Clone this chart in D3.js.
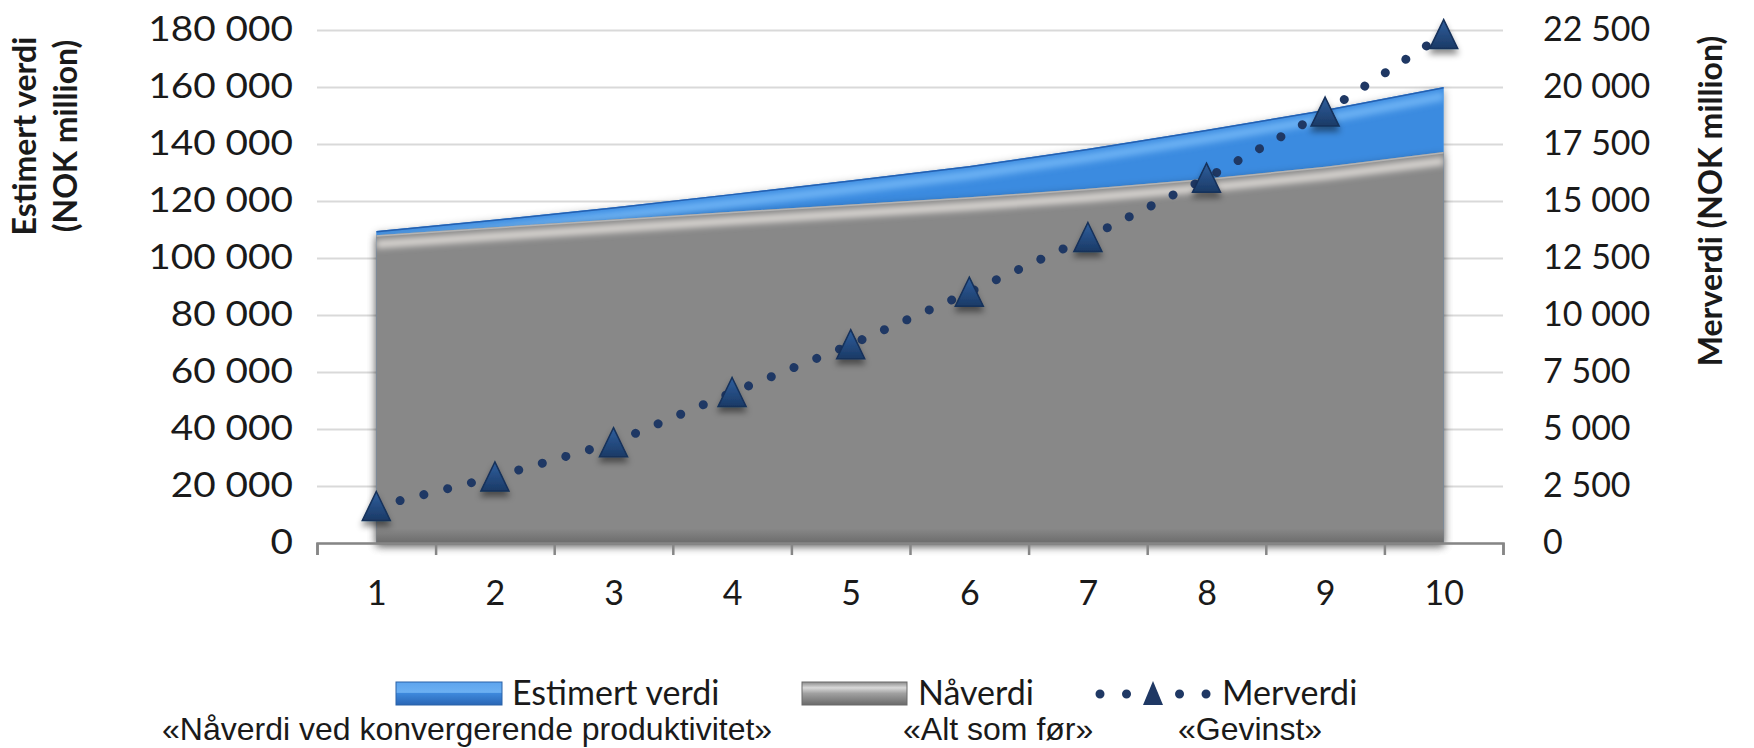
<!DOCTYPE html>
<html>
<head>
<meta charset="utf-8">
<script src="https://cdn.jsdelivr.net/npm/d3@7"></script>
<style>
  body { margin: 0; background: #fff; }
  text { font-family: Lato, "Open Sans", sans-serif; fill: #1a1a1a; }
  .quote { font-family: "Liberation Sans", Arial, sans-serif; }
</style>
</head>
<body>
<svg id="chart" width="1754" height="748"></svg>
<script>
// data
var years = [1, 2, 3, 4, 5, 6, 7, 8, 9, 10];
var estimert = [109500, 113500, 117800, 122500, 127300, 132300, 138300, 145000, 152000, 160000];
var naverdi = [108000, 110800, 113500, 116200, 118800, 121300, 124300, 127800, 132000, 137200];
var merverdi = [1600, 2900, 4400, 6600, 8700, 11000, 13400, 16000, 18900, 22300];
var leftTicks = [0, 20000, 40000, 60000, 80000, 100000, 120000, 140000, 160000, 180000];
var rightTicks = [0, 2500, 5000, 7500, 10000, 12500, 15000, 17500, 20000, 22500];
var legendNames = ["Estimert verdi", "Nåverdi", "Merverdi"];
var quotes = ["«Nåverdi ved konvergerende produktivitet»", "«Alt som før»", "«Gevinst»"];

var svg = d3.select("#chart");
var pl = 317, pr = 1503, pt = 30, pb = 543;

var x = d3.scaleLinear().domain([0.5, 10.5]).range([pl, pr]);
var y = d3.scaleLinear().domain([0, 180000]).range([pb, pt]);
var yR = d3.scaleLinear().domain([0, 22500]).range([pb, pt]);

var fmt = d3.formatLocale({decimal: ",", thousands: " ", grouping: [3], currency: ["", ""]}).format(",");

var defs = svg.append("defs");
var sh = defs.append("filter").attr("id", "shadow").attr("x", "-10%").attr("y", "-10%").attr("width", "120%").attr("height", "130%");
sh.append("feDropShadow").attr("dx", 0).attr("dy", 3).attr("stdDeviation", 4)
  .attr("flood-color", "#000").attr("flood-opacity", 0.4);
var msh = defs.append("filter").attr("id", "mshadow").attr("x", "-50%").attr("y", "-50%").attr("width", "200%").attr("height", "220%");
msh.append("feDropShadow").attr("dx", 0).attr("dy", 5).attr("stdDeviation", 3)
  .attr("flood-color", "#000").attr("flood-opacity", 0.45);
defs.append("filter").attr("id", "blur3").attr("x", "-10%").attr("y", "-50%").attr("width", "120%").attr("height", "200%")
  .append("feGaussianBlur").attr("stdDeviation", 3);

function grad(id, stops) {
  var g = defs.append("linearGradient").attr("id", id).attr("x1", 0).attr("y1", 0).attr("x2", 0).attr("y2", 1);
  stops.forEach(function(s) { g.append("stop").attr("offset", s[0]).attr("stop-color", s[1]); });
}
grad("gBlueLeg", [[0, "#5da4ee"], [0.45, "#6cb0f2"], [0.5, "#3d88dc"], [1, "#2a66b5"]]);
grad("gGrayLeg", [[0, "#8a8a8a"], [0.25, "#d9d9d9"], [0.5, "#a0a0a0"], [1, "#6a6a6a"]]);
grad("gTri", [[0, "#2f5f9e"], [1, "#1b3a66"]]);
grad("gBottom", [[0, "#878787"], [1, "#6c6c6c"]]);

// left tick labels in the picture are a bit wider than the font
function widen(sel, k) {
  sel.each(function() {
    var t = d3.select(this);
    t.attr("x", +t.attr("x") / k).attr("transform", "scale(" + k + ",1)");
  });
}

// gridlines
svg.append("g")
  .attr("transform", "translate(" + pl + ",0)")
  .call(d3.axisLeft(y).tickValues(leftTicks).tickSize(-(pr - pl)).tickFormat(""))
  .call(function(g) { g.select(".domain").remove(); })
  .call(function(g) { g.selectAll("line").attr("stroke", "#d9d9d9").attr("stroke-width", 2); });

var area = function(vals) {
  return d3.area().x(function(d, i) { return x(years[i]); }).y0(pb).y1(function(d) { return y(d); })(vals);
};
var line = function(vals, sc) {
  return d3.line().x(function(d, i) { return x(years[i]); }).y(function(d) { return sc(d); })(vals);
};

defs.append("clipPath").attr("id", "clipBlue").append("path").attr("d", area(estimert));
defs.append("clipPath").attr("id", "clipGray").append("path").attr("d", area(naverdi));

// Estimert verdi area
svg.append("path").attr("d", area(estimert)).attr("fill", "#3a8be0").attr("filter", "url(#shadow)");
var bl = svg.append("g").attr("clip-path", "url(#clipBlue)");
bl.append("path").attr("d", line(estimert, y)).attr("transform", "translate(0,9)")
  .attr("fill", "none").attr("stroke", "#6db2f4").attr("stroke-width", 9).attr("filter", "url(#blur3)");
bl.append("path").attr("d", line(estimert, y))
  .attr("fill", "none").attr("stroke", "#2560b0").attr("stroke-width", 3);
bl.append("line").attr("x1", x(10)).attr("x2", x(10)).attr("y1", pt).attr("y2", pb)
  .attr("stroke", "#1f5096").attr("stroke-width", 6).attr("filter", "url(#blur3)");

// Nåverdi area
svg.append("path").attr("d", area(naverdi)).attr("fill", "#888888").attr("filter", "url(#shadow)");
var gr = svg.append("g").attr("clip-path", "url(#clipGray)");
gr.append("path").attr("d", line(naverdi, y)).attr("transform", "translate(0,9)")
  .attr("fill", "none").attr("stroke", "#dcd8d4").attr("stroke-width", 8).attr("filter", "url(#blur3)");
gr.append("path").attr("d", line(naverdi, y))
  .attr("fill", "none").attr("stroke", "#b4b4b4").attr("stroke-width", 3);
gr.append("rect").attr("x", pl).attr("width", pr - pl).attr("y", pb - 14).attr("height", 14)
  .attr("fill", "url(#gBottom)");
gr.append("line").attr("x1", x(10)).attr("x2", x(10)).attr("y1", pt).attr("y2", pb)
  .attr("stroke", "#4a4a4a").attr("stroke-width", 7).attr("filter", "url(#blur3)");
gr.append("line").attr("x1", x(1)).attr("x2", x(1)).attr("y1", pt).attr("y2", pb)
  .attr("stroke", "#9a9a9a").attr("stroke-width", 4).attr("filter", "url(#blur3)");

// x axis
svg.append("g")
  .attr("transform", "translate(0," + pb + ")")
  .call(d3.axisBottom(x).tickValues(d3.range(0.5, 11, 1)).tickSize(12).tickSizeOuter(12).tickFormat(""))
  .call(function(g) { g.selectAll("line, path").attr("stroke", "#868686").attr("stroke-width", 2.5); });
svg.append("g")
  .attr("transform", "translate(0," + pb + ")")
  .call(d3.axisBottom(x).tickValues(years).tickSize(0).tickPadding(38))
  .call(function(g) { g.select(".domain").remove(); })
  .selectAll("text").style("font-size", "34px").attr("fill", "#1a1a1a").style("font-family", "Lato");

// y axes labels
svg.append("g")
  .attr("transform", "translate(" + pl + ",0)")
  .call(d3.axisLeft(y).tickValues(leftTicks).tickSize(0).tickPadding(24).tickFormat(fmt))
  .call(function(g) { g.select(".domain").remove(); })
  .selectAll("text").style("font-size", "34px").attr("fill", "#1a1a1a").style("font-family", "Lato")
  .call(widen, 1.14);
svg.append("g")
  .attr("transform", "translate(" + pr + ",0)")
  .call(d3.axisRight(yR).tickValues(rightTicks).tickSize(0).tickPadding(40).tickFormat(fmt))
  .call(function(g) { g.select(".domain").remove(); })
  .selectAll("text").style("font-size", "34px").attr("fill", "#1a1a1a").style("font-family", "Lato");

// axis titles
var lt = svg.append("text").attr("transform", "translate(36,136) rotate(-90)")
  .attr("text-anchor", "middle").style("font-size", "32px").style("font-weight", "bold");
lt.append("tspan").attr("x", 0).attr("y", 0).text("Estimert verdi");
lt.append("tspan").attr("x", 0).attr("y", 41).text("(NOK million)");
svg.append("text").attr("transform", "translate(1722,201) rotate(-90)")
  .attr("text-anchor", "middle").style("font-size", "32px").style("font-weight", "bold")
  .text("Merverdi (NOK million)");

// Merverdi dotted line + triangles
svg.append("path").attr("d", line(merverdi, yR))
  .attr("fill", "none").attr("stroke", "#1f3864").attr("stroke-width", 9)
  .attr("stroke-linecap", "round").attr("stroke-dasharray", "0.01 24.5");
var tri = "M0,-15L14,14L-14,14Z";
svg.append("g").selectAll("path").data(merverdi).enter().append("path")
  .attr("d", tri)
  .attr("transform", function(d, i) { return "translate(" + x(years[i]) + "," + yR(d) + ")"; })
  .attr("fill", "url(#gTri)").attr("stroke", "#14305a").attr("stroke-width", 1.5)
  .attr("filter", "url(#mshadow)");

// legend
var ly = 694;
var leg = svg.append("g");
leg.append("rect").attr("x", 396).attr("y", ly - 12).attr("width", 106).attr("height", 23)
  .attr("fill", "url(#gBlueLeg)").attr("stroke", "#2a62a8");
leg.append("text").attr("x", 512).attr("y", ly + 11).style("font-size", "34px").text(legendNames[0]);
leg.append("rect").attr("x", 802).attr("y", ly - 12).attr("width", 105).attr("height", 23)
  .attr("fill", "url(#gGrayLeg)").attr("stroke", "#6a6a6a");
leg.append("text").attr("x", 918).attr("y", ly + 11).style("font-size", "34px").text(legendNames[1]);
leg.append("line").attr("x1", 1100).attr("x2", 1208).attr("y1", ly).attr("y2", ly)
  .attr("stroke", "#1f3864").attr("stroke-width", 9).attr("stroke-linecap", "round").attr("stroke-dasharray", "0.01 26.5");
leg.append("path").attr("d", "M0,-12L10,12L-10,12Z").attr("transform", "translate(1153," + (ly - 1) + ")")
  .attr("fill", "#1f3864");
leg.append("text").attr("x", 1222).attr("y", ly + 11).style("font-size", "34px").text(legendNames[2]);

// quote captions
var qx = [162, 903, 1178];
svg.append("g").selectAll("text").data(quotes).enter().append("text")
  .attr("class", "quote")
  .attr("x", function(d, i) { return qx[i]; })
  .attr("y", 740)
  .style("font-size", "32px")
  .text(function(d) { return d; });
</script>
</body>
</html>
